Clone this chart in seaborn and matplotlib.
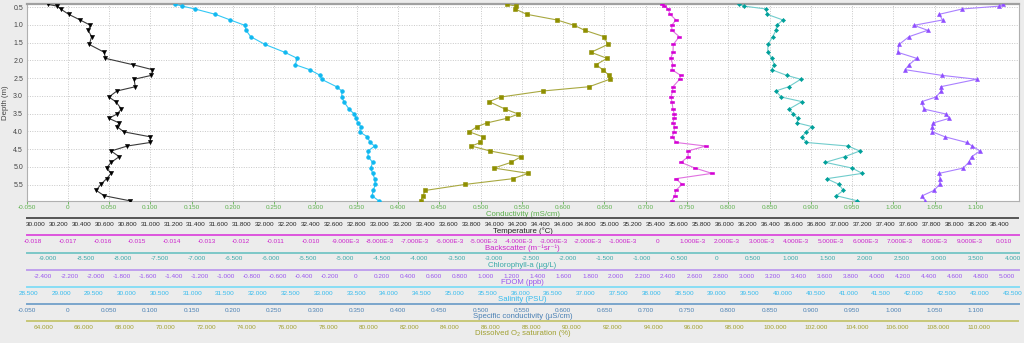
import numpy as np
import pandas as pd
import matplotlib
matplotlib.use("Agg")
import matplotlib.pyplot as plt
import seaborn as sns

# ---------------- data ----------------
depth = [0.42, 0.47, 0.55, 0.70, 0.86, 1.01, 1.15, 1.33, 1.55, 1.77, 1.94, 2.12, 2.26,
         2.42, 2.53, 2.74, 2.86, 3.03, 3.16, 3.37, 3.51, 3.63, 3.76, 3.86, 4.01, 4.15,
         4.31, 4.41, 4.55, 4.71, 4.87, 5.03, 5.18, 5.33, 5.49, 5.66, 5.81, 5.95]

temperature = [30.11, 30.19, 30.22, 30.29, 30.39, 30.48, 30.46, 30.49, 30.47, 30.60, 30.61,
               30.85, 31.02, 31.01, 30.86, 30.87, 30.71, 30.64, 30.70, 30.75, 30.71, 30.64,
               30.73, 30.71, 30.77, 31.00, 31.00, 30.80, 30.66, 30.73, 30.66, 30.62, 30.66,
               30.62, 30.57, 30.53, 30.60, 30.82]

salinity = [30.74, 30.85, 31.04, 31.35, 31.58, 31.80, 31.82, 31.89, 32.11, 32.41, 32.60,
            32.57, 32.79, 32.95, 32.97, 33.20, 33.28, 33.28, 33.31, 33.39, 33.47, 33.50,
            33.52, 33.57, 33.55, 33.67, 33.71, 33.78, 33.68, 33.68, 33.75, 33.72, 33.75,
            33.78, 33.79, 33.76, 33.74, 33.84]

do_sat = [86.79, 87.26, 87.20, 87.77, 89.26, 90.10, 90.62, 91.57, 91.76, 90.93, 91.72,
          91.18, 91.51, 91.82, 91.85, 90.84, 88.56, 86.49, 85.92, 86.71, 87.36, 86.79,
          85.81, 85.34, 84.95, 85.61, 85.49, 85.05, 85.97, 87.49, 87.00, 86.16, 87.85,
          87.08, 84.75, 82.79, 82.66, 82.56]

backscatter = [0.000140, 0.000198, 0.000313, 0.000363, 0.000536, 0.000412, 0.000420,
               0.000631, 0.000458, 0.000449, 0.000383, 0.000449, 0.000420, 0.000671,
               0.000642, 0.000449, 0.000440, 0.000391, 0.000420, 0.000449, 0.000487,
               0.000487, 0.000440, 0.000498, 0.000478, 0.000429, 0.000544, 0.001392,
               0.000882, 0.000890, 0.000680, 0.001084, 0.001574, 0.000527, 0.000717,
               0.000527, 0.000507, 0.000412]

chlorophyll = [0.312, 0.376, 0.672, 0.686, 0.901, 0.816, 0.807, 0.763, 0.699, 0.695, 0.753,
               0.784, 0.749, 0.951, 1.140, 0.978, 0.803, 0.878, 1.157, 0.982, 1.040, 1.099,
               1.094, 1.288, 1.215, 1.157, 1.215, 1.777, 1.935, 1.733, 1.471, 1.831, 1.970,
               1.490, 1.656, 1.714, 1.619, 1.899]

fdom = [4.968, 4.942, 4.658, 4.481, 4.507, 4.287, 4.392, 4.249, 4.172, 4.162, 4.308, 4.249,
        4.220, 4.502, 4.769, 4.492, 4.497, 4.456, 4.346, 4.364, 4.535, 4.558, 4.435, 4.428,
        4.428, 4.525, 4.692, 4.735, 4.794, 4.730, 4.707, 4.666, 4.481, 4.487, 4.484, 4.441,
        4.351, 4.371]

depth_ticks = [0.5, 1.0, 1.5, 2.0, 2.5, 3.0, 3.5, 4.0, 4.5, 5.0, 5.5]
cond_ticks = [round(-0.05 + 0.05 * i, 3) for i in range(24)]
temp_ticks = [round(30.0 + 0.2 * i, 1) for i in range(43)]
bs_ticks = [round(-0.018 + 0.001 * i, 3) for i in range(29)]
chl_ticks = [round(-9.0 + 0.5 * i, 1) for i in range(27)]
fdom_ticks = [round(-2.4 + 0.2 * i, 1) for i in range(38)]
sal_ticks = [round(28.5 + 0.5 * i, 1) for i in range(31)]
do_ticks = [64 + 2 * i for i in range(24)]

# ---------------- style ----------------
sns.set_theme(style="white")
plt.rcParams["font.family"] = ["Liberation Sans", "DejaVu Sans"]
plt.rcParams["axes.unicode_minus"] = False

W_PX, H_PX = 1024, 343
fig = plt.figure(figsize=(W_PX / 100, H_PX / 100), dpi=100)
fig.patch.set_facecolor("#ececec")

L = 26.5 / W_PX
R = 1018.5 / W_PX
AW = R - L
top_px, bot_px = 4.0, 201.0
ax = fig.add_axes([L, 1 - bot_px / H_PX, AW, (bot_px - top_px) / H_PX])
ax.set_facecolor("white")

TS = 4.6   # tick label size
LS = 5.6   # axis title size


def fmt3(v):
    if abs(v) < 1e-12:
        return "0"
    return f"{v:.3f}"


def fmt_bs(v):
    if abs(v) < 1e-12:
        return "0"
    if abs(v) < 0.0095:
        return f"{v * 1000:.3f}E-3"
    return f"{v:.3f}"


# main axes: conductivity scale + depth
cond_lim = (-0.05, 1.1515)
ax.set_xlim(*cond_lim)
ax.set_ylim(5.958, 0.41)
ax.set_xticks(cond_ticks)
ax.set_xticklabels([fmt3(v) for v in cond_ticks])
ax.set_yticks(depth_ticks)
ax.set_yticklabels([f"{v:.1f}" for v in depth_ticks])
ax.grid(True, color="#c8c8c8", linestyle=(0, (1, 1.5)), linewidth=0.7)
for s in ax.spines.values():
    s.set_color("#b0b0b0")
    s.set_linewidth(0.8)
ax.spines["top"].set_color("#a0a0a0")
ax.spines["top"].set_linewidth(1.6)
cond_color = "#5cb04c"
ax.tick_params(axis="x", direction="out", length=2, width=0.6, color=cond_color,
               labelcolor=cond_color, labelsize=TS, pad=1.2, bottom=True)
ax.tick_params(axis="y", direction="out", length=0, labelcolor="#444444",
               labelsize=TS + 0.4, pad=2.5, left=True)
ax.set_xlabel("Conductivity (mS/cm)", color=cond_color, fontsize=LS, labelpad=0.3)
ax.set_ylabel("Depth (m)", color="#444444", fontsize=LS, labelpad=3)

# ---------------- series, each on its own x scale ----------------
temp_lim = (29.923, 38.560)
bs_lim = (-0.018196, 0.010415)
chl_lim = (-9.294, 4.075)
fdom_lim = (-2.529, 5.090)
sal_lim = (28.473, 43.595)
do_lim = (63.174, 111.95)

rect_marker = [(-1.0, -0.45), (1.0, -0.45), (1.0, 0.45), (-1.0, 0.45), (-1.0, -0.45)]

series = [
    (temperature, temp_lim, "#3a3a3a", "#000000", "v", 3.0),
    (salinity, sal_lim, "#33c8f5", "#10b8f0", "o", 2.7),
    (do_sat, do_lim, "#a8a840", "#8f8f00", "s", 2.8),
    (backscatter, bs_lim, "#e070e0", "#d400d4", rect_marker, 3.2),
    (chlorophyll, chl_lim, "#70cccc", "#00a09a", "D", 2.1),
    (fdom, fdom_lim, "#aa80ff", "#8f4dff", "^", 2.9),
]

for vals, lim, lcol, mcol, mk, ms in series:
    sax = ax.twiny()
    sax.set_xlim(*lim)
    df = pd.DataFrame({"value": vals, "depth": depth})
    sns.lineplot(data=df, x="value", y="depth", sort=False, estimator=None, ax=sax,
                 color=lcol, linewidth=0.8, marker=mk, markersize=ms,
                 markerfacecolor=mcol, markeredgecolor=mcol, markeredgewidth=0.4,
                 legend=False)
    sax.set_xlim(*lim)
    sax.set_ylim(5.958, 0.41)
    sax.axis("off")

# ---------------- stacked secondary axes below ----------------
rows = [
    (218.3, temp_lim, temp_ticks, [f"{v:.3f}" for v in temp_ticks],
     "Temperature (°C)", "#555555", "#222222"),
    (235.3, bs_lim, bs_ticks, [fmt_bs(v) for v in bs_ticks],
     "Backscatter (m⁻¹sr⁻¹)", "#dd55dd", "#cc22cc"),
    (252.5, chl_lim, chl_ticks, [fmt3(v) for v in chl_ticks],
     "Chlorophyll-a (µg/L)", "#7cc8c8", "#3aa8a8"),
    (269.7, fdom_lim, fdom_ticks, [fmt3(v) for v in fdom_ticks],
     "FDOM (ppb)", "#c0a0ee", "#9a55ee"),
    (287.0, sal_lim, sal_ticks, [f"{v:.3f}" for v in sal_ticks],
     "Salinity (PSU)", "#88ddf5", "#33bbee"),
    (304.0, cond_lim, cond_ticks, [fmt3(v) for v in cond_ticks],
     "Specific conductivity (µS/cm)", "#7aa6cc", "#4a80b4"),
    (321.0, do_lim, do_ticks, [f"{v:.3f}" for v in do_ticks],
     "Dissolved O₂ saturation (%)", "#c8c878", "#a0a030"),
]

for y_px, lim, ticks, labels, title, line_col, text_col in rows:
    rax = fig.add_axes([L, 1 - y_px / H_PX, AW, 0.0005])
    rax.set_facecolor("none")
    rax.patch.set_visible(False)
    for side in ("left", "right", "top"):
        rax.spines[side].set_visible(False)
    rax.spines["bottom"].set_color(line_col)
    rax.spines["bottom"].set_linewidth(1.4)
    rax.set_yticks([])
    rax.set_xlim(*lim)
    rax.set_xticks(ticks)
    rax.set_xticklabels(labels)
    rax.tick_params(axis="x", direction="out", length=1.8, width=0.6, color=line_col,
                    labelcolor=text_col, labelsize=TS, pad=1.0)
    rax.set_xlabel(title, color=text_col, fontsize=LS, labelpad=0.3)

fig.savefig("out.png", dpi=100, facecolor=fig.get_facecolor())
